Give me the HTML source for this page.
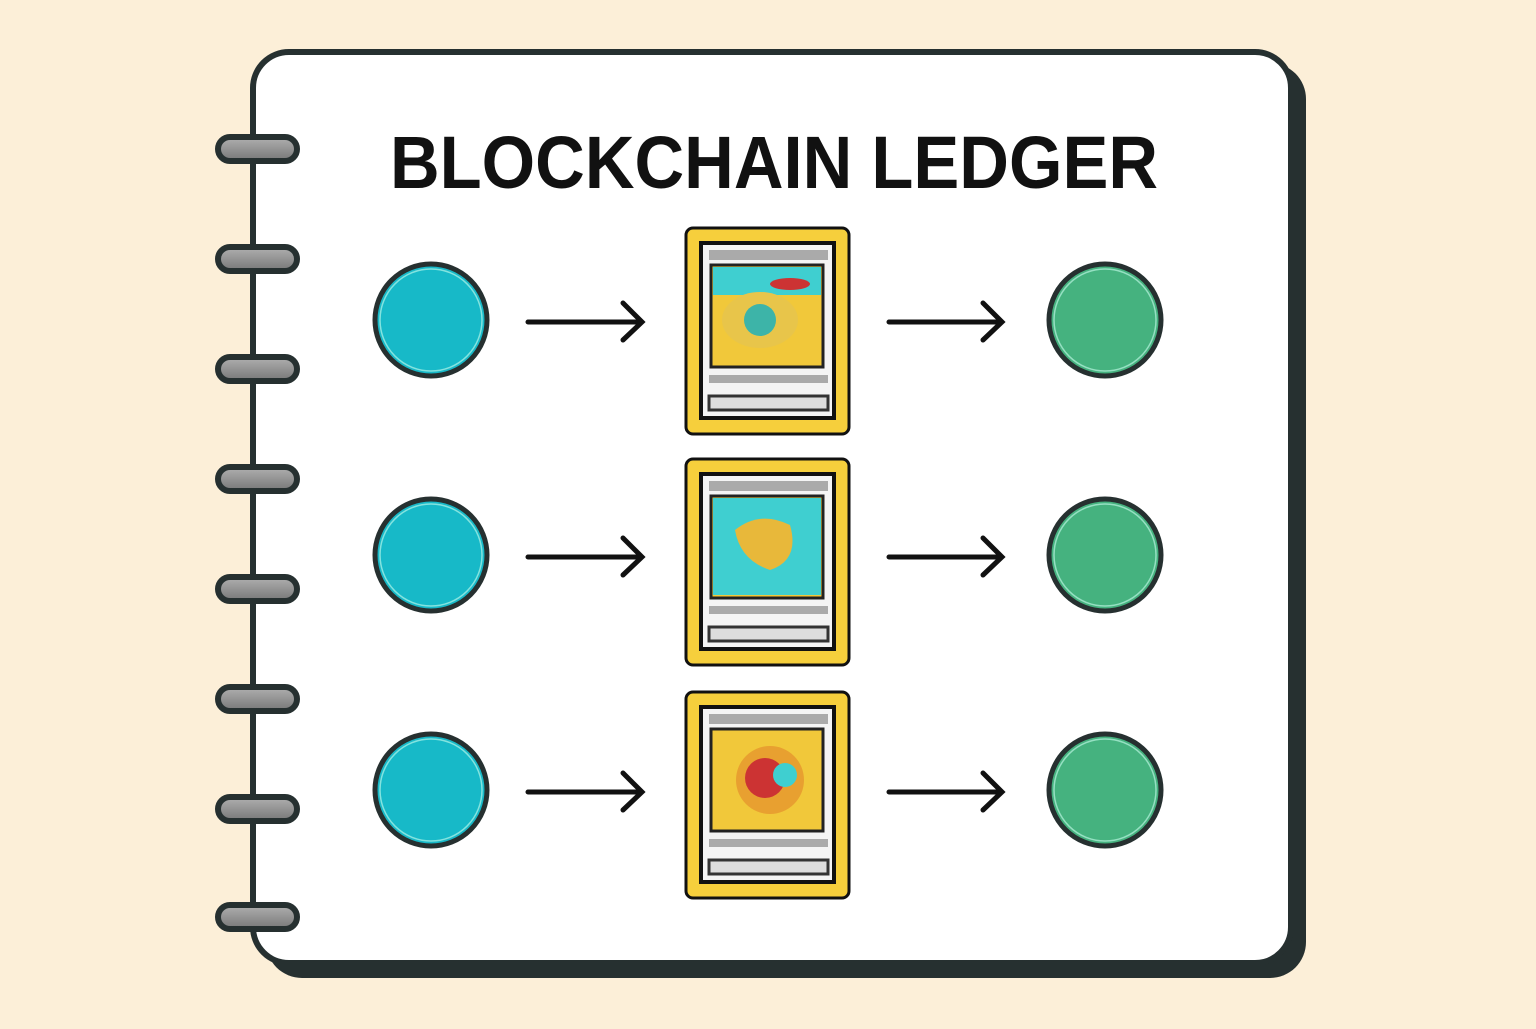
<!DOCTYPE html>
<html><head><style>
body{margin:0;width:1536px;height:1024px;background:#fcefd8;overflow:hidden;font-family:"Liberation Sans",sans-serif}
</style></head><body>
<svg width="1536" height="1024" xmlns="http://www.w3.org/2000/svg">
<defs>
<linearGradient id="rg" x1="0" x2="0" y1="0" y2="1"><stop offset="0" stop-color="#b0b0b0"/><stop offset="1" stop-color="#777"/></linearGradient>
</defs>
<rect x="266" y="63" width="1040" height="915" rx="36" fill="#263030"/>
<rect x="253" y="52" width="1038" height="911" rx="36" fill="#fff" stroke="#263030" stroke-width="6"/>
<g fill="url(#rg)" stroke="#263030" stroke-width="6">
<rect x="218" y="137" width="79" height="24" rx="12"/>
<rect x="218" y="247" width="79" height="24" rx="12"/>
<rect x="218" y="357" width="79" height="24" rx="12"/>
<rect x="218" y="467" width="79" height="24" rx="12"/>
<rect x="218" y="577" width="79" height="24" rx="12"/>
<rect x="218" y="687" width="79" height="24" rx="12"/>
<rect x="218" y="797" width="79" height="24" rx="12"/>
<rect x="218" y="905" width="79" height="24" rx="12"/>
</g>
<text x="390" y="188" textLength="768" lengthAdjust="spacingAndGlyphs" font-family="Liberation Sans" font-weight="bold" font-size="74" fill="#111">BLOCKCHAIN LEDGER</text>
<g id="row">
<circle cx="431" cy="320" r="56" fill="#17b9c8" stroke="#263030" stroke-width="5"/>
<circle cx="431" cy="320" r="51" fill="none" stroke="#cfe" stroke-width="1.5" opacity=".6"/>
<circle cx="1105" cy="320" r="56" fill="#45b27f" stroke="#263030" stroke-width="5"/>
<circle cx="1105" cy="320" r="51" fill="none" stroke="#cfe" stroke-width="1.5" opacity=".6"/>
<g stroke="#111" stroke-width="5" fill="none" stroke-linecap="round">
<path d="M528 322H641M623 303L642 322L623 340"/>
<path d="M889 322H1001M983 303L1002 322L983 340"/>
</g>
</g>
<use href="#row" y="235"/>
<use href="#row" y="470"/>
<g id="card">
<rect x="686" y="228" width="163" height="206" rx="7" fill="#f6cf3c" stroke="#111" stroke-width="3"/>
<rect x="701" y="243" width="133" height="175" fill="#f4f4f4" stroke="#111" stroke-width="4"/>
<rect x="709" y="250" width="119" height="10" fill="#aaa"/>
<rect x="711" y="265" width="112" height="102" fill="#f1c83a" stroke="#222" stroke-width="3"/>
<rect x="713" y="267" width="108" height="28" fill="#3fcfd0"/>
<ellipse cx="760" cy="320" rx="38" ry="28" fill="#e8c54a"/>
<ellipse cx="760" cy="320" rx="16" ry="16" fill="#3db4a8"/>
<ellipse cx="790" cy="284" rx="20" ry="6" fill="#c33"/>
<rect x="709" y="375" width="119" height="8" fill="#aaa"/>
<rect x="709" y="396" width="119" height="14" fill="#ddd" stroke="#333" stroke-width="3"/>
</g>
<use href="#card" y="231"/>
<use href="#card" y="464"/>
<rect x="713" y="498" width="108" height="97" fill="#3fcfd0"/>
<path d="M735 530Q760 510 790 525Q800 560 770 570Q740 560 735 530Z" fill="#e8b83a"/>
<rect x="713" y="731" width="108" height="97" fill="#f1c83a"/>
<circle cx="770" cy="780" r="34" fill="#e8a030"/>
<circle cx="765" cy="778" r="20" fill="#c33"/>
<circle cx="785" cy="775" r="12" fill="#3fcfd0"/>
</svg>
</body></html>
